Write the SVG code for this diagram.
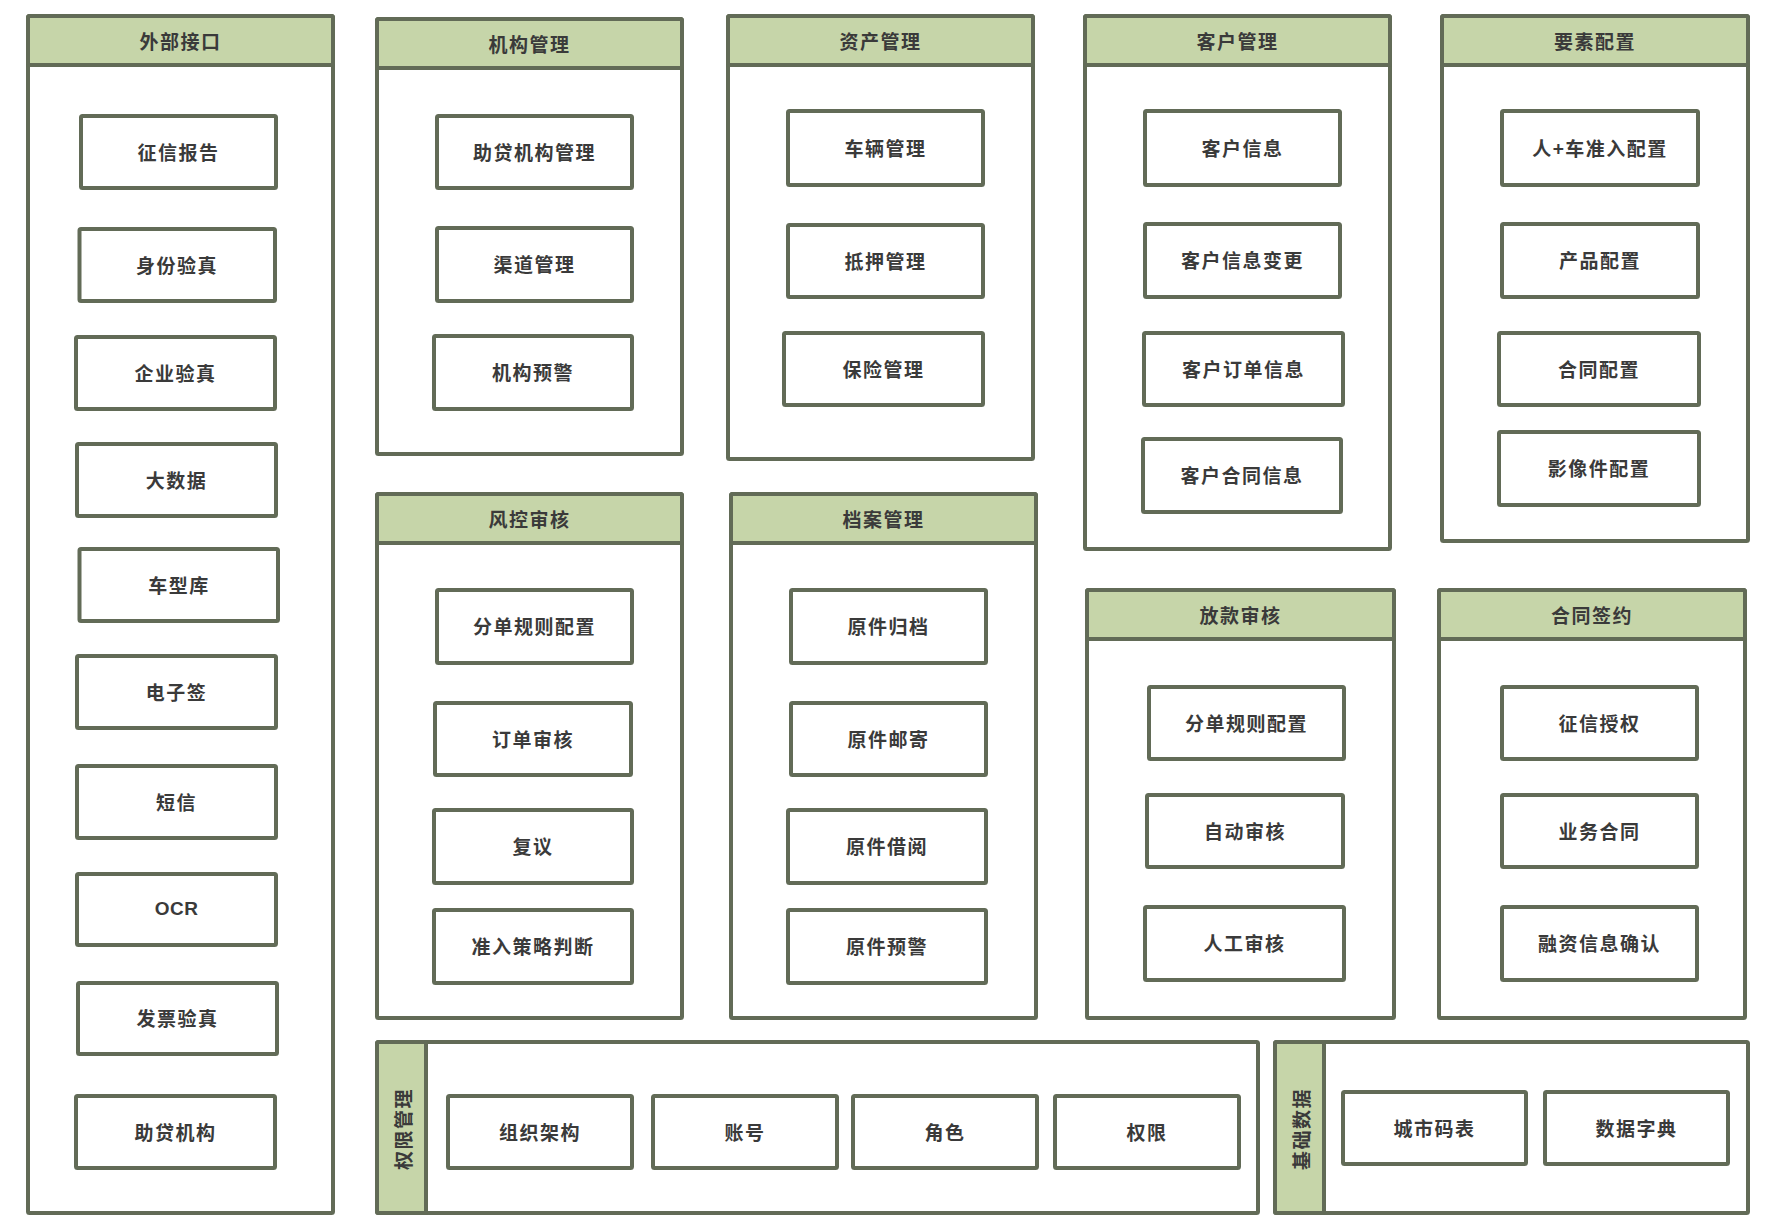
<svg xmlns="http://www.w3.org/2000/svg" width="1780" height="1230" viewBox="0 0 1780 1230">
<style>
.panel{fill:#ffffff;stroke:#626b57;stroke-width:4;}
.head{fill:#c6d5a9;stroke:#626b57;stroke-width:4;}
.item{fill:#ffffff;stroke:#626b57;stroke-width:4;}
.t{font-family:"Noto Sans CJK SC","Liberation Sans",sans-serif;font-size:19px;font-weight:bold;fill:#3a3a3a;text-anchor:middle;dominant-baseline:central;letter-spacing:1.5px;}
.h{font-family:"Noto Sans CJK SC","Liberation Sans",sans-serif;font-size:19px;font-weight:bold;fill:#3a3a3a;text-anchor:middle;dominant-baseline:central;letter-spacing:1.5px;}
</style>
<rect x="0" y="0" width="1780" height="1230" fill="#ffffff"/>

<g id="waibujiekou">
<rect class="panel" x="28" y="16" width="305" height="1197" rx="1.5"/>
<rect class="head" x="28" y="16" width="305" height="49" rx="1.5"/>
<text class="h" x="180.5" y="40">外部接口</text>
</g>
<g id="zhengxinbaogao"><rect class="item" x="81" y="116" width="195" height="72" rx="1.5"/><text class="t" x="178.5" y="151">征信报告</text></g>
<g id="shenfenyanzhen"><rect class="item" x="79.5" y="229" width="195.5" height="72" rx="1.5"/><text class="t" x="177" y="264">身份验真</text></g>
<g id="qiyeyanzhen"><rect class="item" x="76" y="337" width="199" height="72" rx="1.5"/><text class="t" x="175.5" y="372">企业验真</text></g>
<g id="dashuju"><rect class="item" x="77" y="444" width="199" height="72" rx="1.5"/><text class="t" x="176.5" y="479">大数据</text></g>
<g id="chexingku"><rect class="item" x="79.5" y="549" width="198.5" height="72" rx="1.5"/><text class="t" x="179" y="584">车型库</text></g>
<g id="dianziqian"><rect class="item" x="77" y="656" width="199" height="72" rx="1.5"/><text class="t" x="176.5" y="691">电子签</text></g>
<g id="duanxin"><rect class="item" x="77" y="766" width="199" height="72" rx="1.5"/><text class="t" x="176.5" y="801">短信</text></g>
<g id="ocr"><rect class="item" x="77" y="874" width="199" height="71" rx="1.5"/><text class="t" x="176.5" y="908.5" style="font-family:'Liberation Sans',sans-serif;letter-spacing:0.5px">OCR</text></g>
<g id="fapiaoyanzhen"><rect class="item" x="78" y="983" width="199" height="71" rx="1.5"/><text class="t" x="177.5" y="1017.5">发票验真</text></g>
<g id="zhudaijigou"><rect class="item" x="76" y="1096" width="199" height="72" rx="1.5"/><text class="t" x="175.5" y="1131">助贷机构</text></g>

<g id="jigouguanli">
<rect class="panel" x="377" y="19" width="305" height="435" rx="1.5"/>
<rect class="head" x="377" y="19" width="305" height="49" rx="1.5"/>
<text class="h" x="529.5" y="43">机构管理</text>
</g>
<g id="zhudaijigouguanli"><rect class="item" x="437" y="116" width="195" height="72" rx="1.5"/><text class="t" x="534.5" y="151">助贷机构管理</text></g>
<g id="qudaoguanli"><rect class="item" x="437" y="228" width="195" height="73" rx="1.5"/><text class="t" x="534.5" y="263.5">渠道管理</text></g>
<g id="jigouyujing"><rect class="item" x="434" y="336" width="198" height="73" rx="1.5"/><text class="t" x="533" y="371.5">机构预警</text></g>

<g id="zichanguanli">
<rect class="panel" x="728" y="16" width="305" height="443" rx="1.5"/>
<rect class="head" x="728" y="16" width="305" height="49" rx="1.5"/>
<text class="h" x="880.5" y="40">资产管理</text>
</g>
<g id="cheliangguanli"><rect class="item" x="788" y="111" width="195" height="74" rx="1.5"/><text class="t" x="885.5" y="147">车辆管理</text></g>
<g id="diyaguanli"><rect class="item" x="788" y="225" width="195" height="72" rx="1.5"/><text class="t" x="885.5" y="260">抵押管理</text></g>
<g id="baoxianguanli"><rect class="item" x="784" y="333" width="199" height="72" rx="1.5"/><text class="t" x="883.5" y="368">保险管理</text></g>

<g id="kehuguanli">
<rect class="panel" x="1085" y="16" width="305" height="533" rx="1.5"/>
<rect class="head" x="1085" y="16" width="305" height="49" rx="1.5"/>
<text class="h" x="1237.5" y="40">客户管理</text>
</g>
<g id="kehuxinxi"><rect class="item" x="1145" y="111" width="195" height="74" rx="1.5"/><text class="t" x="1242.5" y="147">客户信息</text></g>
<g id="kehuxinxibiangeng"><rect class="item" x="1145" y="224" width="195" height="73" rx="1.5"/><text class="t" x="1242.5" y="259.5">客户信息变更</text></g>
<g id="kehudingdanxinxi"><rect class="item" x="1144" y="333" width="199" height="72" rx="1.5"/><text class="t" x="1243.5" y="368">客户订单信息</text></g>
<g id="kehuhetongxinxi"><rect class="item" x="1143" y="439" width="198" height="73" rx="1.5"/><text class="t" x="1242" y="474.5">客户合同信息</text></g>

<g id="yaosupeizhi">
<rect class="panel" x="1442" y="16" width="306" height="525" rx="1.5"/>
<rect class="head" x="1442" y="16" width="306" height="49" rx="1.5"/>
<text class="h" x="1595" y="40">要素配置</text>
</g>
<g id="renchezhunrupeizhi"><rect class="item" x="1502" y="111" width="196" height="74" rx="1.5"/><text class="t" x="1600" y="147">人+车准入配置</text></g>
<g id="chanpinpeizhi"><rect class="item" x="1502" y="224" width="196" height="73" rx="1.5"/><text class="t" x="1600" y="259.5">产品配置</text></g>
<g id="hetongpeizhi"><rect class="item" x="1499" y="333" width="200" height="72" rx="1.5"/><text class="t" x="1599" y="368">合同配置</text></g>
<g id="yingxiangjianpeizhi"><rect class="item" x="1499" y="432" width="200" height="73" rx="1.5"/><text class="t" x="1599" y="467.5">影像件配置</text></g>

<g id="fengkongshenhe">
<rect class="panel" x="377" y="494" width="305" height="524" rx="1.5"/>
<rect class="head" x="377" y="494" width="305" height="49" rx="1.5"/>
<text class="h" x="529.5" y="518">风控审核</text>
</g>
<g id="fendanguizepeizhi1"><rect class="item" x="437" y="590" width="195" height="73" rx="1.5"/><text class="t" x="534.5" y="625.5">分单规则配置</text></g>
<g id="dingdanshenhe"><rect class="item" x="435" y="703" width="196" height="72" rx="1.5"/><text class="t" x="533" y="738">订单审核</text></g>
<g id="fuyi"><rect class="item" x="434" y="810" width="198" height="73" rx="1.5"/><text class="t" x="533" y="845.5">复议</text></g>
<g id="zhunrucelvepanduan"><rect class="item" x="434" y="910" width="198" height="73" rx="1.5"/><text class="t" x="533" y="945.5">准入策略判断</text></g>

<g id="danganguanli">
<rect class="panel" x="731" y="494" width="305" height="524" rx="1.5"/>
<rect class="head" x="731" y="494" width="305" height="49" rx="1.5"/>
<text class="h" x="883.5" y="518">档案管理</text>
</g>
<g id="yuanjianguidang"><rect class="item" x="791" y="590" width="195" height="73" rx="1.5"/><text class="t" x="888.5" y="625.5">原件归档</text></g>
<g id="yuanjianyouji"><rect class="item" x="791" y="703" width="195" height="72" rx="1.5"/><text class="t" x="888.5" y="738">原件邮寄</text></g>
<g id="yuanjianjieyue"><rect class="item" x="788" y="810" width="198" height="73" rx="1.5"/><text class="t" x="887" y="845.5">原件借阅</text></g>
<g id="yuanjianyujing"><rect class="item" x="788" y="910" width="198" height="73" rx="1.5"/><text class="t" x="887" y="945.5">原件预警</text></g>

<g id="fangkuanshenhe">
<rect class="panel" x="1087" y="590" width="307" height="428" rx="1.5"/>
<rect class="head" x="1087" y="590" width="307" height="49" rx="1.5"/>
<text class="h" x="1240.5" y="614">放款审核</text>
</g>
<g id="fendanguizepeizhi2"><rect class="item" x="1149" y="687" width="195" height="72" rx="1.5"/><text class="t" x="1246.5" y="722">分单规则配置</text></g>
<g id="zidongshenhe"><rect class="item" x="1147" y="795" width="196" height="72" rx="1.5"/><text class="t" x="1245" y="830">自动审核</text></g>
<g id="rengongshenhe"><rect class="item" x="1145" y="907" width="199" height="73" rx="1.5"/><text class="t" x="1244.5" y="942.5">人工审核</text></g>

<g id="hetongqianyue">
<rect class="panel" x="1439" y="590" width="306" height="428" rx="1.5"/>
<rect class="head" x="1439" y="590" width="306" height="49" rx="1.5"/>
<text class="h" x="1592" y="614">合同签约</text>
</g>
<g id="zhengxinshouquan"><rect class="item" x="1502" y="687" width="195" height="72" rx="1.5"/><text class="t" x="1599.5" y="722">征信授权</text></g>
<g id="yewuhetong"><rect class="item" x="1502" y="795" width="195" height="72" rx="1.5"/><text class="t" x="1599.5" y="830">业务合同</text></g>
<g id="rongzixinxiqueren"><rect class="item" x="1502" y="907" width="195" height="73" rx="1.5"/><text class="t" x="1599.5" y="942.5">融资信息确认</text></g>

<g id="quanxianguanli">
<rect class="panel" x="377" y="1042" width="881" height="171" rx="1.5"/>
<rect class="head" x="377" y="1042" width="49" height="171" rx="1.5"/>
<text class="h" x="0" y="0" transform="translate(402,1129) rotate(-90)">权限管理</text>
</g>
<g id="zuzhijiagou"><rect class="item" x="448" y="1096" width="184" height="72" rx="1.5"/><text class="t" x="540" y="1131">组织架构</text></g>
<g id="zhanghao"><rect class="item" x="653" y="1096" width="184" height="72" rx="1.5"/><text class="t" x="745" y="1131">账号</text></g>
<g id="juese"><rect class="item" x="853" y="1096" width="184" height="72" rx="1.5"/><text class="t" x="945" y="1131">角色</text></g>
<g id="quanxian"><rect class="item" x="1055" y="1096" width="184" height="72" rx="1.5"/><text class="t" x="1147" y="1131">权限</text></g>

<g id="jichushuju">
<rect class="panel" x="1275" y="1042" width="473" height="171" rx="1.5"/>
<rect class="head" x="1275" y="1042" width="49" height="171" rx="1.5"/>
<text class="h" x="0" y="0" transform="translate(1300,1129) rotate(-90)">基础数据</text>
</g>
<g id="chengshimabiao"><rect class="item" x="1343" y="1092" width="183" height="72" rx="1.5"/><text class="t" x="1434.5" y="1127">城市码表</text></g>
<g id="shujuzidian"><rect class="item" x="1545" y="1092" width="183" height="72" rx="1.5"/><text class="t" x="1636.5" y="1127">数据字典</text></g>

<g id="connectors"></g>
</svg>
